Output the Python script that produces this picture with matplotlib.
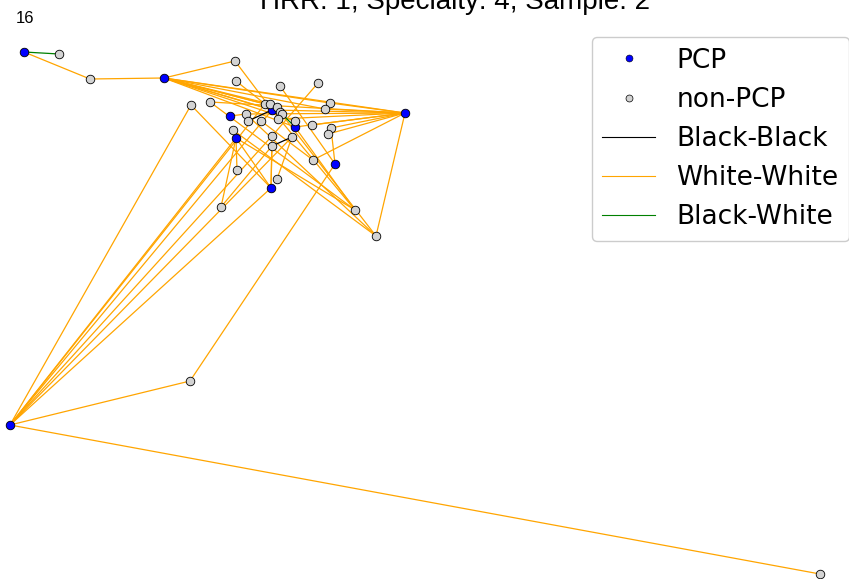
import matplotlib.pyplot as plt
from matplotlib.lines import Line2D

# node layout, y grows downward
node_x = [24, 164, 230, 236, 272, 295, 335, 405, 271, 10,
          59, 90, 235, 236, 280, 318, 191, 210, 330, 325,
          265, 270, 277, 280, 282, 278, 246, 248, 261, 233,
          295, 312, 331, 328, 272, 292, 272, 313, 237, 277,
          221, 355, 376, 190, 820]
node_y = [52, 78, 116, 138, 110, 127, 164, 113, 188, 425,
          54, 79, 61, 81, 86, 83, 105, 102, 103, 109,
          104, 104, 107, 112, 114, 119, 114, 121, 121, 130,
          121, 125, 128, 134, 136, 137, 146, 160, 170, 179,
          207, 210, 236, 381, 574]
n_pcp = 10  # first 10 nodes are PCPs

edges_ww = [(0, 11), (11, 1), (1, 12), (1, 7), (1, 18), (1, 19), (1, 4),
            (1, 20), (1, 21), (1, 22), (1, 23), (1, 30), (1, 5),
            (12, 4), (13, 20), (14, 6), (15, 34), (16, 9), (16, 8),
            (17, 7), (17, 41), (7, 18), (7, 19), (7, 5), (7, 31), (7, 32),
            (7, 33), (7, 37), (7, 42), (7, 4), (37, 28), (6, 32), (6, 43),
            (9, 43), (9, 44), (9, 3), (9, 4), (9, 34), (9, 35), (9, 8),
            (9, 20), (40, 3), (40, 36), (38, 3), (39, 35), (8, 36), (8, 34),
            (3, 8), (41, 3), (41, 4), (41, 5), (42, 29), (42, 23), (42, 26),
            (2, 26), (3, 29), (26, 7), (25, 7)]
edges_bb = [(36, 35), (27, 4)]
edges_bw = [(0, 10), (24, 5)]

fig = plt.figure(figsize=(8.49, 5.79), dpi=100)
ax = fig.add_axes([0, 0, 1, 1])

for edges, col in [(edges_ww, 'orange'), (edges_bb, 'black'), (edges_bw, 'green')]:
    for a, b in edges:
        ax.plot([node_x[a], node_x[b]], [node_y[a], node_y[b]],
                color=col, linewidth=0.9, zorder=1)

ax.scatter(node_x[:n_pcp], node_y[:n_pcp], s=38, c='blue',
           edgecolors='black', linewidths=0.6, zorder=3)
ax.scatter(node_x[n_pcp:], node_y[n_pcp:], s=38, c='lightgrey',
           edgecolors='black', linewidths=0.6, zorder=3)

ax.set_xlim(0, 849)
ax.set_ylim(579, 0)
ax.axis('off')

fig.text(455 / 849, 1 - 9 / 579, "HRR: 1, Specialty: 4, Sample: 2",
         ha='center', va='baseline', fontsize=20, family='Liberation Sans')
fig.text(25 / 849, 1 - 23 / 579, "16", ha='center', va='baseline',
         fontsize=12, family='Liberation Sans')

handles = [
    Line2D([], [], linestyle='none', marker='o', markersize=5,
           markerfacecolor='blue', markeredgecolor='black', markeredgewidth=0.4),
    Line2D([], [], linestyle='none', marker='o', markersize=5,
           markerfacecolor='lightgrey', markeredgecolor='black', markeredgewidth=0.5),
    Line2D([], [], color='black', linewidth=0.8),
    Line2D([], [], color='orange', linewidth=0.8),
    Line2D([], [], color='green', linewidth=0.8),
]
fig.legend(handles, ['PCP', 'non-PCP', 'Black-Black', 'White-White', 'Black-White'],
           loc='upper right', bbox_to_anchor=(1.0, 1 - 37 / 579),
           borderaxespad=0, fontsize=19, framealpha=1)

fig.savefig('out.png', dpi=100)
